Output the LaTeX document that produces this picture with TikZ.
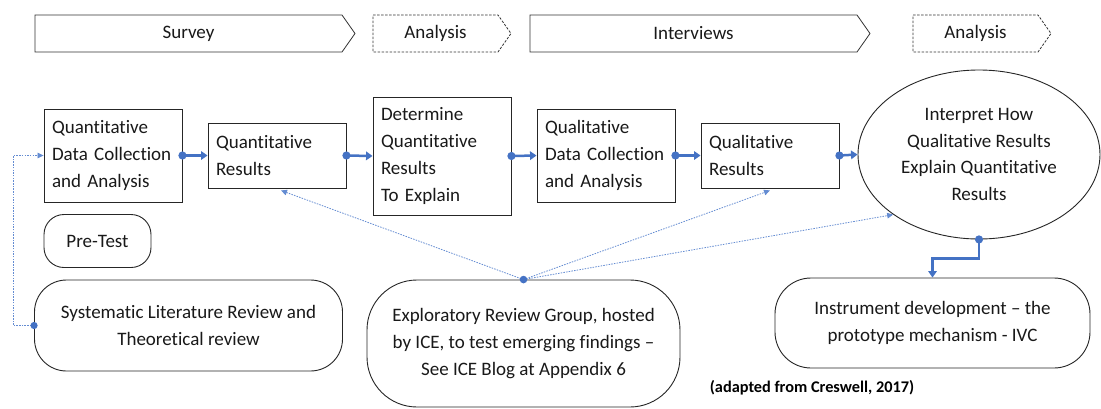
\documentclass[tikz,border=0pt]{standalone}
\usepackage{fontspec}
\setmainfont{Carlito}[Ligatures=NoCommon]
\usetikzlibrary{arrows.meta,shapes.geometric,calc}
\definecolor{cblue}{RGB}{68,114,196}
\definecolor{lblue}{RGB}{100,140,210}
\begin{document}
\begin{tikzpicture}[x=1pt,y=-1pt,
  every node/.style={font=\fontsize{19}{26.7}\selectfont, text=black!90},
  chevline/.style={draw=black!80, line width=0.8pt},
  chevdash/.style={draw=black!80, line width=0.8pt, dash pattern=on 2.5pt off 1.5pt},
  qbox/.style={draw=black!85, line width=0.9pt, inner xsep=8pt, inner ysep=0pt, text width=122pt, align=left},
  rbox/.style={draw=black!85, line width=0.9pt, align=center, inner sep=0pt},
  flow/.style={draw=cblue, line width=2.5pt, {Circle[length=8pt,width=8pt]}-{Triangle[length=6.5pt,width=8.5pt]}, shorten <=-4pt},
  dotc/.style={draw=lblue, line width=0.8pt, dash pattern=on 1.5pt off 1.2pt, -{Triangle[length=6pt,width=5.5pt]}},
]
\useasboundingbox[fill=white] (0,0) rectangle (1101,408);

% top phase chevrons
\draw[chevline] (35,15) -- (342,15) -- (355,33.5) -- (342,52) -- (35,52) -- cycle;
\node (survey) at (188.5,33.5) {Survey};
\draw[chevdash] (373,15) -- (498,15) -- (511,33.5) -- (498,52) -- (373,52) -- cycle;
\node (ana1) at (435.5,33.5) {Analysis};
\draw[chevline] (530,15) -- (857,15) -- (870,33.5) -- (857,52) -- (530,52) -- cycle;
\node (interv) at (693.5,33.5) {Interviews};
\draw[chevdash] (913,15) -- (1038,15) -- (1051,33.5) -- (1038,52) -- (913,52) -- cycle;
\node (ana2) at (975.5,33.5) {Analysis};

% process boxes
\node[qbox, minimum height=93pt] (q1) at (113,155.5) {Quantitative\\Data Collection\\and Analysis};
\node[qbox, minimum height=65pt] (q2) at (277,155.5) {Quantitative\\Results};
\node[qbox, minimum height=118pt] (q3) at (442,156) {Determine\\Quantitative\\Results\\To Explain};
\node[qbox, minimum height=93pt] (q4) at (606,155.5) {Qualitative\\Data Collection\\and Analysis};
\node[qbox, minimum height=65pt] (q5) at (770,155.5) {Qualitative\\Results};
\node[ellipse, draw=black!85, line width=0.9pt, minimum width=242pt, minimum height=169pt, inner sep=0pt, align=center] (ell) at (979,154.5) {Interpret How\\Qualitative Results\\Explain Quantitative\\Results};

% rounded boxes
\node[rbox, rounded corners=20pt, minimum width=107pt, minimum height=53pt] (pre) at (97.5,241) {Pre-Test};
\node[rbox, rounded corners=32pt, minimum width=308pt, minimum height=91pt] (sys) at (188.5,325.5) {Systematic Literature Review and\\Theoretical review};
\node[rbox, rounded corners=50pt, minimum width=313pt, minimum height=127pt] (expl) at (523.5,343.5) {Exploratory Review Group, hosted\\by ICE, to test emerging findings --\\See ICE Blog at Appendix 6};
\node[rbox, rounded corners=36pt, minimum width=315pt, minimum height=90pt] (inst) at (932.5,323) {Instrument development -- the\\prototype mechanism - IVC};

\node[font=\fontsize{16.3}{18}\selectfont\bfseries, text=black] (cite) at (812,387.5) {(adapted from Creswell, 2017)};

% main flow
\draw[flow] (q1.east) -- (q2.west);
\draw[flow] (q2.east) -- (q3.west);
\draw[flow] (q3.east) -- (q4.west);
\draw[flow] (q4.east) -- (q5.west);
\draw[flow] (q5.east) -- (ell.west);
\draw[flow] (ell.south) -- ++(0,19) -| (inst.north);

% dotted feedback connectors
\draw[dotc] (sys.west) -- ++(-21,0) |- (q1.west);
\fill[cblue] (sys.west) circle (3.6pt);
\draw[dotc] (expl.north) -- ($(q2.south)+(4,2)$);
\draw[dotc] (expl.north) -- ($(q5.south)+(0,2)$);
\draw[dotc] (expl.north) -- (ell.215);
\fill[cblue] (expl.north) circle (3.8pt);
\end{tikzpicture}
\end{document}
